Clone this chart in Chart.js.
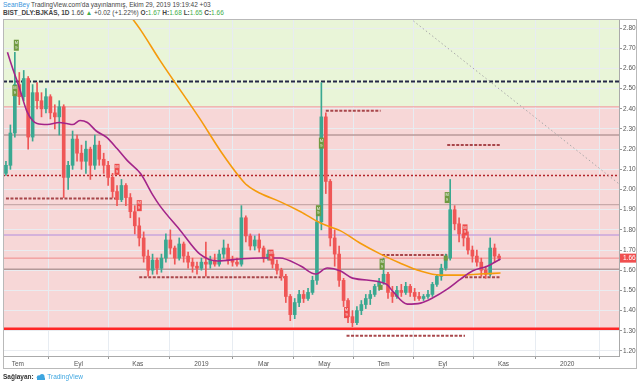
<!DOCTYPE html>
<html>
<head>
<meta charset="utf-8">
<script src="https://cdn.jsdelivr.net/npm/chart.js@4.4.0/dist/chart.umd.min.js"></script>
<style>
body{margin:0;width:640px;height:385px;background:#fff;position:relative;overflow:hidden;font-family:"Liberation Sans",Arial,sans-serif}
.hdr{position:absolute;left:3px;font-size:6.5px;line-height:8px;color:#444;white-space:nowrap}
.g{color:#3fae49}
#wrap{position:absolute;left:3px;top:19px;width:633px;height:349px}
#frame{position:absolute;left:3px;top:19px;width:634px;height:350px;box-sizing:border-box;border:1px solid #b9b9b9;pointer-events:none}
#foot{position:absolute;left:3px;top:373px;font-size:6.5px;color:#333;white-space:nowrap}
#foot span{color:#3ea6e0}
</style>
</head>
<body>
<div class="hdr" style="top:1px"><span style="color:#3a94dc">SeanBey</span> TradingView.com'da yayınlanmış, Ekim 29, 2019 19:19:42 +03</div>
<div class="hdr" style="top:9px"><b>BIST_DLY:BJKAS, 1D</b> 1.66 <span class="g">▲</span> +0.02 (+1.22%) <b>O:</b><span class="g">1.67</span> <b>H:</b><span class="g">1.68</span> <b>L:</b><span class="g">1.65</span> <b>C:</b><span class="g">1.66</span></div>
<div id="wrap"><canvas id="myChart" width="633" height="349"></canvas></div>
<div id="frame"></div>
<div id="foot"><b>Sağlayan:</b> <svg width="10" height="6" viewBox="0 0 10 6" style="vertical-align:-1px"><circle cx="3" cy="3.5" r="2.3" fill="#3ea6e0"/><circle cx="6" cy="2.6" r="2.5" fill="#3ea6e0"/><rect x="1" y="3.5" width="8" height="2.5" fill="#3ea6e0"/></svg> <span>TradingView</span></div>

<script>
// ---- data ----
// x axis is in trading-bar units, one candle drawn per 3 bars
var monthTicks = [8, 49, 89, 132, 174, 215, 255, 295, 336, 379];
var monthLabels = ['Tem', 'Eyl', 'Kas', '2019', 'Mar', 'May', 'Tem', 'Eyl', 'Kas', '2020'];
var priceTicks = [1.2, 1.3, 1.4, 1.5, 1.6, 1.7, 1.8, 1.9, 2.0, 2.1, 2.2, 2.3, 2.4, 2.5, 2.6, 2.7, 2.8];
var candleStep = 3;

var opens = [
  2.08,2.12,2.28,2.52,2.46,2.55,2.26,2.48,2.44,2.40,
  2.46,2.38,2.36,2.41,2.06,2.12,2.25,2.18,2.14,2.20,
  2.12,2.22,2.15,2.12,2.06,1.99,1.95,2.02,1.96,1.89,
  1.82,1.76,1.67,1.60,1.65,1.61,1.66,1.75,1.71,1.66,
  1.73,1.67,1.64,1.62,1.61,1.64,1.63,1.65,1.63,1.68,
  1.71,1.65,1.64,1.63,1.86,1.77,1.72,1.75,1.71,1.66,
  1.68,1.63,1.60,1.57,1.47,1.38,1.44,1.48,1.46,1.49,
  1.55,1.84,2.36,2.04,1.76,1.68,1.55,1.45,1.37,1.34,
  1.40,1.43,1.46,1.48,1.52,1.54,1.58,1.49,1.47,1.50,
  1.49,1.52,1.49,1.47,1.46,1.47,1.48,1.53,1.57,1.61,
  1.66,1.90,1.83,1.78,1.76,1.70,1.67,1.64,1.60,1.58,
  1.71,1.67];
var highs = [
  2.14,2.32,2.68,2.58,2.59,2.56,2.52,2.53,2.48,2.50,
  2.47,2.42,2.44,2.42,2.14,2.29,2.27,2.22,2.24,2.21,
  2.27,2.24,2.18,2.14,2.08,2.02,2.05,2.03,1.98,1.92,
  1.86,1.79,1.70,1.68,1.66,1.68,1.78,1.80,1.72,1.76,
  1.74,1.69,1.66,1.64,1.66,1.74,1.67,1.68,1.70,1.75,
  1.73,1.67,1.66,1.92,1.87,1.78,1.77,1.78,1.72,1.70,
  1.69,1.65,1.61,1.58,1.48,1.46,1.50,1.50,1.51,1.57,
  1.88,2.53,2.38,2.05,1.80,1.72,1.56,1.46,1.40,1.42,
  1.45,1.48,1.50,1.53,1.56,1.66,1.59,1.52,1.52,1.53,
  1.54,1.53,1.51,1.49,1.48,1.50,1.54,1.58,1.63,1.68,
  2.05,1.92,1.86,1.81,1.79,1.72,1.70,1.66,1.62,1.76,
  1.73,1.68];
var lows = [
  2.07,2.10,2.26,2.42,2.44,2.20,2.24,2.40,2.36,2.38,
  2.35,2.30,2.27,1.96,2.00,2.10,2.14,2.10,2.08,2.05,
  2.10,2.12,2.08,2.02,1.96,1.92,1.94,1.92,1.86,1.78,
  1.72,1.64,1.57,1.58,1.58,1.59,1.64,1.68,1.63,1.65,
  1.64,1.61,1.59,1.58,1.60,1.57,1.61,1.62,1.62,1.66,
  1.63,1.62,1.62,1.62,1.74,1.70,1.70,1.69,1.64,1.65,
  1.61,1.58,1.55,1.44,1.35,1.36,1.42,1.44,1.45,1.48,
  1.53,1.80,1.98,1.72,1.62,1.52,1.42,1.34,1.32,1.33,
  1.38,1.41,1.43,1.47,1.50,1.53,1.46,1.44,1.46,1.47,
  1.48,1.47,1.45,1.45,1.45,1.46,1.47,1.52,1.55,1.60,
  1.65,1.80,1.74,1.72,1.68,1.64,1.62,1.57,1.56,1.57,
  1.64,1.65];
var closes = [
  2.12,2.28,2.52,2.46,2.55,2.26,2.48,2.44,2.40,2.46,
  2.38,2.36,2.41,2.06,2.12,2.25,2.18,2.14,2.20,2.12,
  2.22,2.15,2.12,2.06,1.99,1.95,2.02,1.96,1.89,1.82,
  1.76,1.67,1.60,1.65,1.61,1.66,1.75,1.71,1.66,1.73,
  1.67,1.64,1.62,1.61,1.64,1.63,1.65,1.63,1.68,1.71,
  1.65,1.64,1.63,1.86,1.77,1.72,1.75,1.71,1.66,1.68,
  1.63,1.60,1.57,1.47,1.38,1.44,1.48,1.46,1.49,1.55,
  1.84,2.36,2.04,1.76,1.68,1.55,1.45,1.37,1.34,1.40,
  1.43,1.46,1.48,1.52,1.54,1.58,1.49,1.47,1.50,1.49,
  1.52,1.49,1.47,1.46,1.47,1.48,1.53,1.57,1.61,1.66,
  1.90,1.83,1.78,1.76,1.70,1.67,1.64,1.60,1.58,1.71,
  1.67,1.66];

// slow moving average (orange)
var slowBars = [82, 91, 104, 131, 145, 158, 163, 172, 185, 199, 212, 226, 239, 253, 266, 280, 293, 307, 320, 334];
var slowVals = [2.88, 2.79, 2.64, 2.35, 2.19, 2.06, 2.02, 1.98, 1.94, 1.89, 1.835, 1.795, 1.735, 1.68, 1.636, 1.596, 1.576, 1.576, 1.581, 1.586];
// fast moving average (purple)
var fastBars = [1, 5, 9, 14, 18, 21, 28, 36, 41, 45, 50, 55, 61, 68, 75, 82, 91, 99, 104, 118, 131, 143, 158, 172, 185, 199, 209, 217, 226, 234, 257, 261, 271, 280, 288, 298, 307, 315, 325, 334];
var fastVals = [2.68, 2.59, 2.506, 2.39, 2.342, 2.327, 2.322, 2.332, 2.327, 2.322, 2.342, 2.332, 2.29, 2.258, 2.203, 2.143, 2.078, 1.975, 1.919, 1.795, 1.68, 1.646, 1.656, 1.661, 1.661, 1.621, 1.581, 1.611, 1.596, 1.561, 1.531, 1.497, 1.432, 1.437, 1.462, 1.506, 1.556, 1.596, 1.62, 1.656];

// full width horizontal levels
var levelValues = [2.535, 2.41, 2.27, 2.07, 1.925, 1.775, 1.66, 1.605, 1.31];
// short dashed levels
var segStart = [0, 90, 216, 254, 298, 310, 230];
var segEnd = [74, 189, 253, 298, 334, 334, 310];
var segValue = [1.955, 1.565, 2.39, 1.675, 2.22, 1.565, 1.275];
// trend line
var trendBars = [273, 414];
var trendVals = [2.848, 2.028];
// sequential count markers
var markerBars = [7, 6, 75, 90, 179, 211, 213, 230, 254, 253, 298, 297, 310];
var markerVals = [2.715, 2.49, 2.10, 1.92, 1.675, 1.895, 2.23, 1.39, 1.63, 1.515, 1.96, 1.66, 1.80];
var markerUp = [1, 1, 0, 0, 0, 1, 1, 0, 1, 1, 1, 1, 0];
var markerBig = [1, 1, 1, 1, 1, 1, 1, 1, 1, 0, 1, 0, 1];

var greenZoneFloor = 2.41;
var pinkZoneFloor = 1.31;
var xMin = -2, xMax = 414, yMin = 1.175, yMax = 2.845;

// ---- styles ----
var upColor = '#3aa891';
var downColor = '#ef5656';
var levelStyles = [
  {c: '#252948', w: 2, d: [4, 2]},
  {c: '#eea0a0', w: 1, d: []},
  {c: '#b99a9a', w: 1.5, d: []},
  {c: '#b3262b', w: 1.5, d: [2, 2]},
  {c: '#c8a9a9', w: 1.2, d: []},
  {c: '#c9a6dd', w: 1.5, d: []},
  {c: '#f08a8a', w: 1, d: []},
  {c: '#b49999', w: 1.5, d: []},
  {c: '#ff2626', w: 2.5, d: []}
];

Chart.defaults.font.family = '"Liberation Sans", Arial, sans-serif';
Chart.defaults.font.size = 6.5;

var candleColors = closes.map(function (c, i) { return c >= opens[i] ? upColor : downColor; });
var wickData = closes.map(function (c, i) { return {x: i * candleStep, y: [lows[i], highs[i]]}; });
var bodyData = closes.map(function (c, i) { return {x: i * candleStep, y: [opens[i], c]}; });

var datasets = [];
levelValues.forEach(function (v, i) {
  datasets.push({
    type: 'line', data: [{x: xMin, y: v}, {x: xMax, y: v}],
    borderColor: levelStyles[i].c, borderWidth: levelStyles[i].w, borderDash: levelStyles[i].d,
    pointRadius: 0, order: 6
  });
});
segValue.forEach(function (v, i) {
  datasets.push({
    type: 'line', data: [{x: segStart[i], y: v}, {x: segEnd[i], y: v}],
    borderColor: '#a8474b', borderWidth: 2, borderDash: [3, 1.5],
    pointRadius: 0, order: 5
  });
});
datasets.push({
  type: 'line', data: trendBars.map(function (b, i) { return {x: b, y: trendVals[i]}; }),
  borderColor: '#a9a9a9', borderWidth: 1, borderDash: [1.5, 2.5], pointRadius: 0, order: 5
});
datasets.push({
  type: 'bar', data: wickData, backgroundColor: candleColors,
  barThickness: 1, grouped: false, order: 3
});
datasets.push({
  type: 'bar', data: bodyData, backgroundColor: candleColors,
  barThickness: 3, grouped: false, minBarLength: 1, order: 2
});
datasets.push({
  type: 'line', data: slowBars.map(function (b, i) { return {x: b, y: slowVals[i]}; }),
  borderColor: '#f59b0c', borderWidth: 1.6, pointRadius: 0, cubicInterpolationMode: 'monotone', order: 1
});
datasets.push({
  type: 'line', data: fastBars.map(function (b, i) { return {x: b, y: fastVals[i]}; }),
  borderColor: '#a3258a', borderWidth: 1.6, pointRadius: 0, cubicInterpolationMode: 'monotone', order: 0
});

var zonePlugin = {
  id: 'zones',
  beforeDraw: function (chart) {
    var ctx = chart.ctx, a = chart.chartArea, y = chart.scales.y;
    var yMid = y.getPixelForValue(greenZoneFloor), yLow = y.getPixelForValue(pinkZoneFloor);
    ctx.save();
    ctx.fillStyle = '#e9f5d8';
    ctx.fillRect(a.left, a.top, a.width, yMid - a.top);
    ctx.fillStyle = '#f7d7d7';
    ctx.fillRect(a.left, yMid, a.width, yLow - yMid);
    ctx.restore();
  }
};

var markerPlugin = {
  id: 'markers',
  afterDatasetsDraw: function (chart) {
    var ctx = chart.ctx, x = chart.scales.x, y = chart.scales.y;
    ctx.save();
    markerBars.forEach(function (b, i) {
      var px = x.getPixelForValue(b), py = y.getPixelForValue(markerVals[i]);
      var w = markerBig[i] ? 5 : 4, h = markerBig[i] ? 11 : 5;
      ctx.fillStyle = markerUp[i] ? '#6f9a40' : '#ee4c4c';
      ctx.fillRect(px - w / 2, py - h / 2, w, h);
      if (markerBig[i]) {
        ctx.fillStyle = '#f4f4f4';
        ctx.font = '4px "Liberation Sans"';
        ctx.textAlign = 'center';
        ctx.textBaseline = 'middle';
        ctx.fillText('M', px, py - 2.3);
        ctx.fillText('9', px, py + 2.5);
      }
    });
    ctx.restore();
  }
};

var priceTagPlugin = {
  id: 'priceTag',
  afterDraw: function (chart) {
    var ctx = chart.ctx, a = chart.chartArea, y = chart.scales.y;
    var last = closes[closes.length - 1];
    var py = y.getPixelForValue(last);
    ctx.save();
    ctx.fillStyle = '#f04f4f';
    ctx.fillRect(a.right + 1, py - 4.5, 16, 9);
    ctx.fillStyle = '#fff';
    ctx.font = '6.5px "Liberation Sans"';
    ctx.textAlign = 'left';
    ctx.textBaseline = 'middle';
    ctx.fillText(last.toFixed(2), a.right + 4, py + 0.5);
    ctx.restore();
  }
};

var ctx = document.getElementById('myChart').getContext('2d');
var chart = new Chart(ctx, {
  type: 'bar',
  data: {datasets: datasets},
  plugins: [zonePlugin, markerPlugin, priceTagPlugin],
  options: {
    responsive: false,
    animation: false,
    events: [],
    layout: {padding: 0},
    plugins: {legend: {display: false}, tooltip: {enabled: false}},
    scales: {
      x: {
        type: 'linear', min: xMin, max: xMax, offset: false,
        afterBuildTicks: function (s) { s.ticks = monthTicks.map(function (v) { return {value: v}; }); },
        afterFit: function (s) { s.height = 12; s.paddingLeft = 0; s.paddingRight = 0; },
        ticks: {
          autoSkip: false, maxRotation: 0, color: '#555', padding: 1,
          callback: function (v, i) { return monthLabels[i]; }
        },
        grid: {color: '#e7ecf2', tickColor: '#999', tickLength: 3},
        border: {color: '#aaa'}
      },
      y: {
        type: 'linear', position: 'right', min: yMin, max: yMax,
        afterBuildTicks: function (s) { s.ticks = priceTicks.map(function (v) { return {value: v}; }); },
        afterFit: function (s) { s.width = 17; s.paddingTop = 0; s.paddingBottom = 0; },
        ticks: {
          color: '#555', padding: 1,
          callback: function (v) { return v.toFixed(2); }
        },
        grid: {color: '#e9ecf0', tickColor: '#999', tickLength: 3},
        border: {color: '#aaa'}
      }
    }
  }
});
</script>
</body>
</html>
